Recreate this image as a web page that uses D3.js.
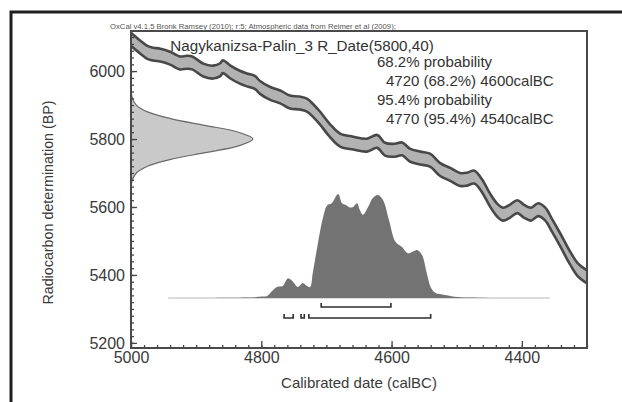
<!DOCTYPE html>
<html><head><meta charset="utf-8">
<script src="https://cdn.jsdelivr.net/npm/d3@7"></script>
<style>body{margin:0;background:#fff} text{font-family:"Liberation Sans",Arial,Helvetica,sans-serif}</style>
</head><body>
<svg id="c" width="622" height="402"></svg>
<script>
// ---- data ----
const curveCalBC = [5006,5000,4986,4975,4966,4955,4940,4925,4914,4906,4889,4874,4863,4859,4848,4833,4822,4810,4802,4787,4771,4756,4741,4730,4721,4710,4695,4679,4659,4638,4622,4610,4595,4584,4572,4556,4541,4526,4510,4495,4484,4473,4461,4449,4438,4429,4418,4407,4397,4386,4375,4364,4354,4341,4326,4314,4300,4294];
const curveBP    = [6110,6094,6071,6055,6050,6047,6038,6024,6026,6024,6003,5997,6004,6013,5998,5982,5974,5967,5952,5935,5924,5909,5906,5900,5885,5862,5826,5797,5788,5782,5793,5770,5767,5771,5753,5744,5738,5711,5696,5681,5682,5688,5662,5621,5591,5579,5588,5601,5588,5579,5592,5579,5547,5503,5450,5415,5394,5385];
const curveSigma = 19;

const dateBP      = [5660,5680,5700,5720,5740,5760,5780,5800,5820,5840,5860,5880,5900,5920,5940];
const dateDensity = [0.002,0.011,0.044,0.135,0.325,0.607,0.882,1,0.882,0.607,0.325,0.135,0.044,0.011,0.002];

const postCalBC = [4943,4900,4850,4810,4800,4791,4783,4776,4767,4759,4751,4744,4736,4730,4725,4721,4713,4705,4699,4692,4682,4676,4669,4664,4659,4653,4649,4644,4636,4629,4621,4613,4604,4594,4584,4575,4566,4560,4553,4546,4540,4533,4518,4498,4480,4450,4400,4357];
const postProb  = [0,0.001,0.003,0.008,0.015,0.02,0.07,0.106,0.115,0.19,0.154,0.106,0.144,0.115,0.106,0.24,0.53,0.78,0.89,0.91,1.0,0.91,0.89,0.87,0.875,0.91,0.85,0.80,0.875,0.96,0.99,0.94,0.75,0.54,0.49,0.43,0.45,0.46,0.41,0.24,0.106,0.05,0.03,0.01,0.004,0.001,0,0];

const range68 = [[4708,4601]];
const range95 = [[4765,4751],[4739,4734],[4727,4540]];

const xTicks = [5000,4800,4600,4400];
const yTicks = [5200,5400,5600,5800,6000];
const xMinor = d3.range(5000,4299,-20);
const yMinor = d3.range(5200,6118,20);

const headerText = "OxCal v4.1.5 Bronk Ramsey (2010); r:5; Atmospheric data from Reimer et al (2009);";
const titleText = "Nagykanizsa-Palin_3 R_Date(5800,40)";
const resultLines = ["68.2% probability","4720 (68.2%) 4600calBC","95.4% probability","4770 (95.4%) 4540calBC"];
const xLabel = "Calibrated date (calBC)";
const yLabel = "Radiocarbon determination (BP)";

// ---- drawing ----
const svg = d3.select("#c");
const L=131, R=587, T=31, B=348;
const x = d3.scaleLinear().domain([5000,4300]).range([L,R]);
const y = d3.scaleLinear().domain([6118,5185]).range([T,B]);
const dW = d3.scaleLinear().domain([0,1]).range([L,253]);
const pH = d3.scaleLinear().domain([0,1]).range([298,194]);

// outer frame
svg.append("rect").attr("x",11).attr("y",12).attr("width",640).attr("height",420)
  .attr("fill","none").attr("stroke","#1e1e1e").attr("stroke-width",3);

svg.append("defs").append("clipPath").attr("id","clip")
  .append("rect").attr("x",L).attr("y",T).attr("width",R-L).attr("height",B-T);
const plot = svg.append("g").attr("clip-path","url(#clip)");

// calibration curve band
const cv = curveCalBC.map((c,i)=>({c, b:curveBP[i]}));
plot.append("path").datum(cv)
  .attr("d", d3.area().x(d=>x(d.c)).y0(d=>y(d.b-curveSigma)).y1(d=>y(d.b+curveSigma)).curve(d3.curveCatmullRom))
  .attr("fill","#b2b2b2");
[1,-1].forEach(s=>{
  plot.append("path").datum(cv)
    .attr("d", d3.line().x(d=>x(d.c)).y(d=>y(d.b+s*curveSigma)).curve(d3.curveCatmullRom))
    .attr("fill","none").attr("stroke","#484848").attr("stroke-width",2.6);
});

// radiocarbon date distribution
const dd = dateBP.map((b,i)=>({b, p:dateDensity[i]}));
plot.append("path").datum(dd)
  .attr("d", d3.area().y(d=>y(d.b)).x0(dW(0)).x1(d=>dW(d.p)).curve(d3.curveCatmullRom))
  .attr("fill","#c9c9c9").attr("stroke","#6a6a6a").attr("stroke-width",1.2);

// posterior calibrated distribution
const pd = postCalBC.map((c,i)=>({c, p:postProb[i]}));
plot.append("line").attr("x1",x(postCalBC[0])).attr("x2",x(postCalBC[postCalBC.length-1]))
  .attr("y1",pH(0)).attr("y2",pH(0)).attr("stroke","#cfcfcf").attr("stroke-width",1.5);
plot.append("path").datum(pd)
  .attr("d", d3.area().x(d=>x(d.c)).y0(pH(0)).y1(d=>pH(d.p)).curve(d3.curveCatmullRom))
  .attr("fill","#737373");

// range brackets
function brackets(list, yb){
  list.forEach(r=>{
    const x0=x(r[0]), x1=x(r[1]);
    svg.append("path").attr("d",`M${x0},${yb-4}V${yb}H${x1}V${yb-4}`)
      .attr("fill","none").attr("stroke","#2e2e2e").attr("stroke-width",1.6);
  });
}
brackets(range68, 307);
brackets(range95, 318);

// axes
const yAxis = svg.append("g").attr("transform",`translate(${L},0)`)
  .call(d3.axisLeft(y).tickValues(yTicks).tickSize(-6).tickPadding(6).tickFormat(d3.format("d")));
const yAxisMinor = svg.append("g").attr("transform",`translate(${L},0)`)
  .call(d3.axisLeft(y).tickValues(yMinor).tickSize(-3).tickFormat(""));
const xAxis = svg.append("g").attr("transform",`translate(0,${B})`)
  .call(d3.axisBottom(x).tickValues(xTicks).tickSize(-7).tickPadding(4).tickFormat(d3.format("d")));
const xAxisMinor = svg.append("g").attr("transform",`translate(0,${B})`)
  .call(d3.axisBottom(x).tickValues(xMinor).tickSize(-3).tickFormat(""));
[yAxis,yAxisMinor,xAxis,xAxisMinor].forEach(g=>{
  g.select(".domain").remove();
  g.selectAll("line").attr("stroke","#444").attr("stroke-width",1.3);
  g.selectAll("text").attr("font-size",16).attr("fill","#3a3a3a")
   .style("font-family","'Liberation Sans',Arial,sans-serif");
});

// plot frame
svg.append("rect").attr("x",L).attr("y",T).attr("width",R-L).attr("height",B-T)
  .attr("fill","none").attr("stroke","#4a4a4a").attr("stroke-width",2);

// texts
svg.append("text").attr("x",110).attr("y",29).attr("font-size",7.7).attr("fill","#555").text(headerText);
svg.append("text").attr("x",302).attr("y",51).attr("text-anchor","middle").attr("font-size",15.2).attr("fill","#333").text(titleText);
const rx=[377,386,377,386], ry=[67,86,105,124];
resultLines.forEach((t,i)=>{
  svg.append("text").attr("x",rx[i]).attr("y",ry[i]).attr("font-size",15).attr("fill","#333").text(t);
});
svg.append("text").attr("x",(L+R)/2).attr("y",388).attr("text-anchor","middle").attr("font-size",15).attr("fill","#3a3a3a").text(xLabel);
svg.append("text").attr("transform",`translate(53,${(T+B)/2+13}) rotate(-90)`).attr("text-anchor","middle")
  .attr("font-size",14.3).attr("fill","#3a3a3a").text(yLabel);
</script>
</body></html>
